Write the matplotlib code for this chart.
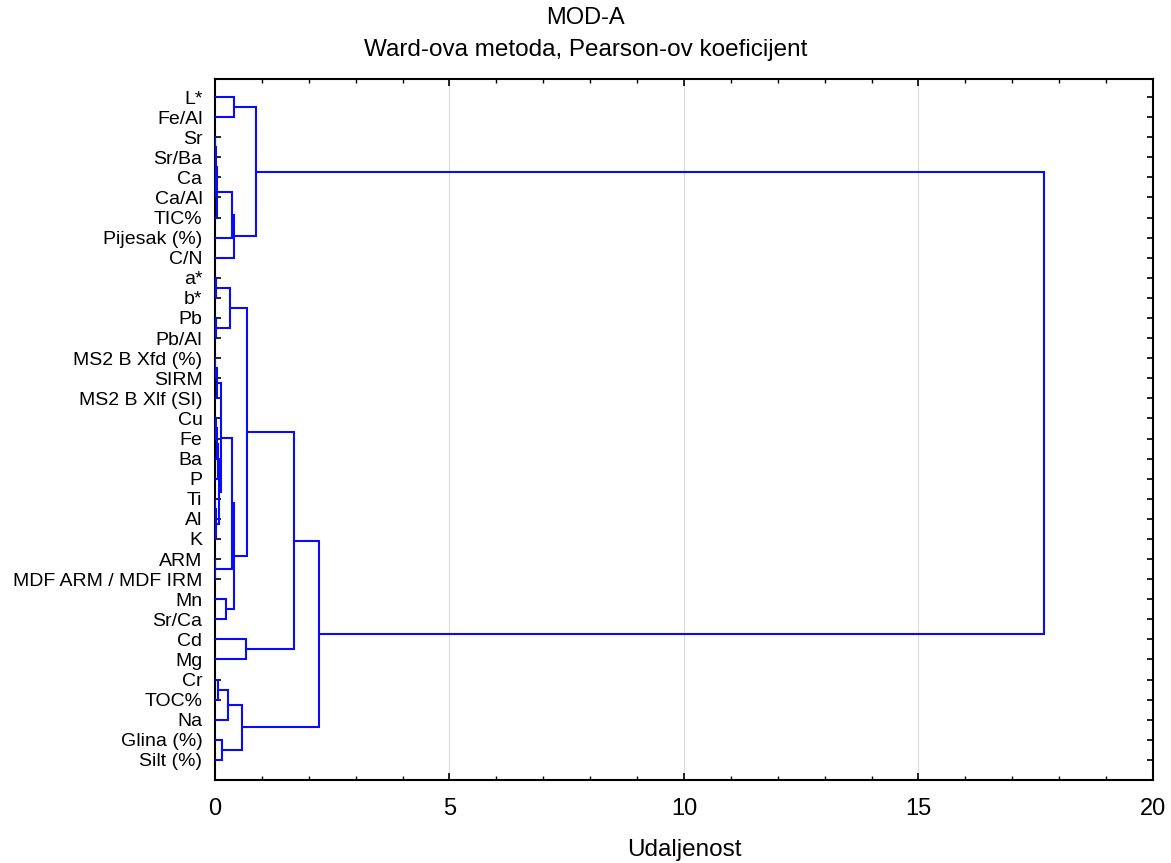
import matplotlib

matplotlib.use("Agg")
import matplotlib.pyplot as plt
from matplotlib.ticker import MultipleLocator

plt.rcParams["font.family"] = ["Liberation Sans", "DejaVu Sans"]

# leaves in display order (top -> bottom)
leaves = [
    "L*", "Fe/Al", "Sr", "Sr/Ba", "Ca", "Ca/Al", "TIC%", "Pijesak (%)", "C/N",
    "a*", "b*", "Pb", "Pb/Al", "MS2 B Xfd (%)", "SIRM", "MS2 B Xlf (SI)", "Cu",
    "Fe", "Ba", "P", "Ti", "Al", "K", "ARM", "MDF ARM / MDF IRM", "Mn", "Sr/Ca",
    "Cd", "Mg", "Cr", "TOC%", "Na", "Glina (%)", "Silt (%)",
]

# joins: a str is a leaf, an int is an earlier join
join_left = [
    "Sr", "Ca", 0, 2, 3, 4, "L*", 6,
    "a*", "Pb", 8,
    "MS2 B Xfd (%)", 11, "Cu", 13, 14, "Ti", 16, 15, 12, "ARM", 19, "Mn", 21,
    10, "Cd", 24,
    "Cr", 27, "Glina (%)", 28, 26, 7,
]
join_right = [
    "Sr/Ba", "Ca/Al", 1, "TIC%", "Pijesak (%)", "C/N", "Fe/Al", 5,
    "b*", "Pb/Al", 9,
    "SIRM", "MS2 B Xlf (SI)", "Fe", "Ba", "P", "Al", "K", 17, 18, "MDF ARM / MDF IRM", 20, "Sr/Ca", 22,
    23, "Mg", 25,
    "TOC%", "Na", "Silt (%)", 29, 30, 31,
]
join_height = [
    0.005, 0.01, 0.02, 0.04, 0.36, 0.41, 0.41, 0.88,
    0.02, 0.02, 0.32,
    0.01, 0.04, 0.02, 0.04, 0.06, 0.01, 0.03, 0.08, 0.13, 0.01, 0.36, 0.24, 0.41,
    0.68, 0.67, 1.69,
    0.07, 0.28, 0.15, 0.58, 2.22, 17.67,
]

x_ticks = [0, 5, 10, 15, 20]


def node_pos(ref, done):
    if isinstance(ref, str):
        return leaves.index(ref), 0.0
    return done[ref]


fig = plt.figure(figsize=(11.71, 8.63), dpi=100)
ax = fig.add_axes([0.1836, 0.0962, 0.8010, 0.8123])

done = []
for a, b, h in zip(join_left, join_right, join_height):
    ya, ha = node_pos(a, done)
    yb, hb = node_pos(b, done)
    ax.plot([ha, h, h, hb], [ya, ya, yb, yb], color="#0a0aff", lw=1.5,
            solid_joinstyle="miter", zorder=3)
    done.append(((ya + yb) / 2, h))

ax.set_xlim(0, 20)
ax.set_ylim(len(leaves) - 1 + 1.0, -0.9)
ax.set_xticks(x_ticks)
ax.xaxis.set_minor_locator(MultipleLocator(1))
ax.set_yticks(range(len(leaves)))
ax.set_yticklabels(leaves)
for v in x_ticks[1:-1]:
    ax.axvline(v, color="#dcdcdc", lw=0.8, zorder=1)

ax.tick_params(axis="both", which="both", direction="in", top=True, right=True,
               colors="black")
ax.tick_params(axis="x", which="major", length=5, width=1.2, pad=13, labelsize=17)
ax.tick_params(axis="x", which="minor", length=3, width=1.0)
ax.tick_params(axis="y", which="major", length=4, width=1.2, pad=9, labelsize=14)
for s in ax.spines.values():
    s.set_linewidth(1.5)

fig.text(0.5, 1 - 18 / 863, "MOD-A", ha="center", va="center", fontsize=17)
fig.text(0.5, 1 - 50 / 863, "Ward-ova metoda, Pearson-ov koeficijent",
         ha="center", va="center", fontsize=17.5)
# axis title sits under the middle of the plot area
fig.text(684 / 1171, 1 - 850 / 863, "Udaljenost", ha="center", va="center",
         fontsize=17.5)

fig.savefig("out.png", dpi=100)
